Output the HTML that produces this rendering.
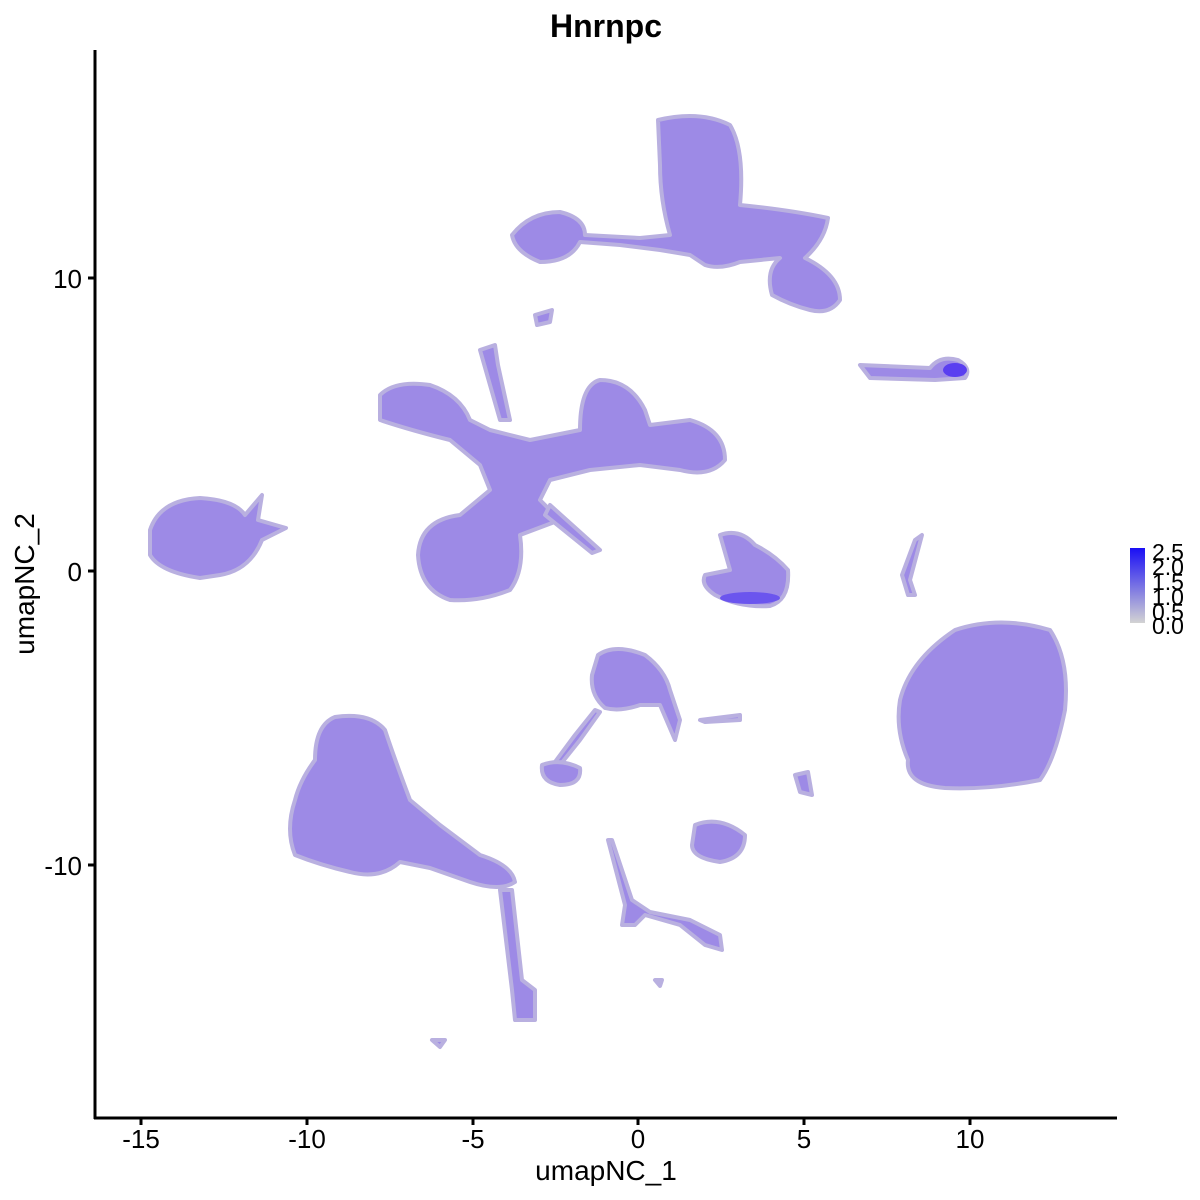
<!DOCTYPE html>
<html><head><meta charset="utf-8"><style>
body{margin:0;background:#fff}
svg{display:block}
text{font-family:"Liberation Sans",sans-serif}
</style></head><body>
<svg width="1200" height="1200" viewBox="0 0 1200 1200">
<defs>
<linearGradient id="lg" x1="0" y1="1" x2="0" y2="0">
<stop offset="0" stop-color="#d3d3d3"/><stop offset="1" stop-color="#1a0ff5"/>
</linearGradient>
</defs>
<text x="606" y="37" font-size="32" font-weight="bold" text-anchor="middle">Hnrnpc</text>
<g fill="#9d8ae6" stroke="#b9b0e0" stroke-width="4" stroke-linejoin="round">
<path d="M150,530 Q160,500 200,498 Q235,500 245,515 L262,495 L258,520 L286,528 L262,540 Q250,570 220,575 L200,578 Q160,572 150,555 Z"/>
<path d="M658,120 Q700,110 730,125 Q745,150 740,205 Q790,210 828,218 Q825,240 805,258 Q840,275 840,300 Q830,315 810,310 Q790,305 772,295 Q765,270 780,258 L740,262 Q720,270 705,265 L690,255 L660,250 L620,245 L580,242 Q570,262 540,262 Q515,252 512,235 Q530,212 560,212 Q585,218 585,235 L640,238 L670,235 Q660,200 660,165 Z"/>
<path d="M380,395 Q395,380 430,385 Q460,395 470,420 L490,430 L530,440 L580,430 Q580,385 600,380 Q630,380 645,410 L650,425 L690,420 Q725,430 725,460 Q710,478 680,470 L640,465 L590,470 L550,480 L540,500 L560,520 L520,535 Q525,570 510,590 Q480,602 450,600 Q420,590 418,555 Q420,520 460,515 L490,490 L480,465 L450,440 Q410,430 380,420 Z"/>
<path d="M480,350 L495,345 L498,365 L510,420 L500,420 Z"/>
<path d="M550,505 L600,550 L592,553 L545,515 Z"/>
<path d="M720,535 Q740,528 755,545 Q775,555 788,570 Q790,600 770,606 Q740,608 715,595 Q700,585 705,575 L730,570 Z"/>
<path d="M900,700 Q910,660 955,630 Q1000,615 1050,630 Q1070,660 1065,710 Q1055,760 1040,780 Q990,790 945,788 Q905,785 908,760 Q895,730 900,700 Z"/>
<path d="M295,800 Q300,780 315,760 Q315,725 335,717 Q370,712 385,730 Q395,760 410,800 L440,825 L480,855 Q512,865 515,882 Q500,892 470,882 L430,868 L400,862 Q380,880 350,872 Q320,865 295,855 Q285,830 295,800 Z"/>
<path d="M500,890 L512,890 L522,980 L535,990 L535,1020 L515,1020 L512,990 Z"/>
<path d="M598,655 Q615,643 645,655 Q665,670 670,690 L680,720 L675,740 L660,705 L640,705 Q620,712 605,708 Q590,695 592,675 Z"/>
<path d="M600,712 L580,740 L560,765 L555,762 L575,735 L595,710 Z"/>
<path d="M542,765 Q560,758 580,768 Q582,785 560,785 Q540,782 542,765 Z"/>
<path d="M695,825 Q720,815 745,835 Q745,858 720,862 Q692,858 692,845 Z"/>
<path d="M608,840 L612,840 L632,900 L650,912 L690,920 L720,935 L722,950 L705,945 L680,925 L645,915 L635,925 L622,925 L625,905 Z"/>
<path d="M860,365 L930,368 Q940,355 958,360 Q972,368 965,378 L935,380 L870,378 Z"/>
<path d="M915,540 L922,535 L910,580 L915,595 L908,595 L902,575 Z"/>
<path d="M795,775 L808,772 L812,795 L800,792 Z"/>
<path d="M700,720 L740,715 L740,720 L705,722 Z"/>
<path d="M535,315 L552,310 L550,322 L537,325 Z"/>
<path d="M432,1040 L445,1040 L440,1047 Z"/>
<path d="M655,980 L662,980 L660,986 Z"/>
</g>
<g fill="#5a3ff0">
<ellipse cx="955" cy="370" rx="12" ry="7"/>
<ellipse cx="750" cy="598" rx="30" ry="6" fill="#6b55ee"/>
</g>
<g stroke="#000" stroke-width="3">
<line x1="95" y1="50" x2="95" y2="1119"/>
<line x1="94" y1="1118" x2="1117" y2="1118"/>
<line x1="88" y1="278" x2="95" y2="278"/><line x1="88" y1="571" x2="95" y2="571"/><line x1="88" y1="865" x2="95" y2="865"/>
<line x1="141" y1="1118" x2="141" y2="1125"/><line x1="307" y1="1118" x2="307" y2="1125"/><line x1="473" y1="1118" x2="473" y2="1125"/><line x1="638" y1="1118" x2="638" y2="1125"/><line x1="804" y1="1118" x2="804" y2="1125"/><line x1="970" y1="1118" x2="970" y2="1125"/>
</g>
<g font-size="26" fill="#000">
<text x="82" y="288" text-anchor="end">10</text>
<text x="82" y="581" text-anchor="end">0</text>
<text x="82" y="875" text-anchor="end">-10</text>
<text x="141" y="1148" text-anchor="middle">-15</text>
<text x="307" y="1148" text-anchor="middle">-10</text>
<text x="473" y="1148" text-anchor="middle">-5</text>
<text x="638" y="1148" text-anchor="middle">0</text>
<text x="804" y="1148" text-anchor="middle">5</text>
<text x="970" y="1148" text-anchor="middle">10</text>
</g>
<text x="606" y="1180" font-size="28" text-anchor="middle">umapNC_1</text>
<text transform="translate(34,584) rotate(-90)" font-size="28" text-anchor="middle">umapNC_2</text>
<rect x="1130" y="548" width="15" height="75" fill="url(#lg)"/>
<g font-size="23">
<text x="1152" y="560">2.5</text><text x="1152" y="575">2.0</text><text x="1152" y="590">1.5</text>
<text x="1152" y="605">1.0</text><text x="1152" y="620">0.5</text><text x="1152" y="634">0.0</text>
</g>
</svg>
</body></html>
